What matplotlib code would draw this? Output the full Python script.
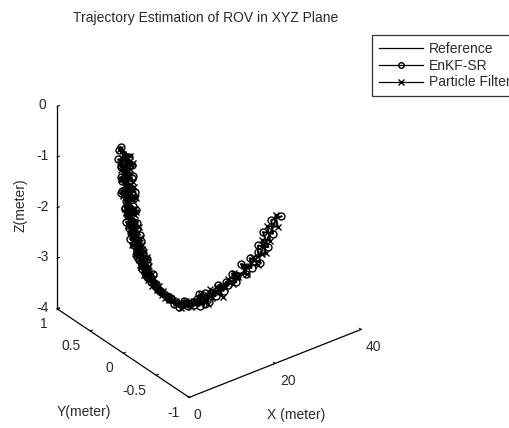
import matplotlib
matplotlib.use('Agg')
import matplotlib.pyplot as plt

plt.rcParams['font.family'] = ['Liberation Sans', 'DejaVu Sans']
plt.rcParams['axes.unicode_minus'] = False

# reference trajectory (estimates are sampled at the same x positions)
x_ref = [0.60, 0.61, 0.63, 0.64, 0.65, 0.67, 0.69, 0.72, 0.73, 0.77,
         0.79, 0.82, 0.86, 0.89, 0.93, 0.97, 1.00, 1.05, 1.09, 1.15,
         1.19, 1.27, 1.32, 1.40, 1.46, 1.55, 1.63, 1.70, 1.79, 1.86,
         1.95, 2.05, 2.12, 2.22, 2.29, 2.41, 2.52, 2.61, 2.73, 2.82,
         2.95, 3.06, 3.20, 3.33, 3.50, 3.63, 3.77, 3.90, 4.04, 4.18,
         4.35, 4.49, 4.64, 4.79, 4.94, 5.09, 5.25, 5.42, 5.61, 5.80,
         6.01, 6.23, 6.46, 6.70, 6.95, 7.22, 7.49, 7.78, 8.07, 8.38,
         8.71, 9.05, 9.42, 9.80, 10.20, 10.61, 11.04, 11.52, 12.03, 12.57,
         13.1, 13.6, 14.1, 14.6, 15.1, 15.6, 16.1, 16.6, 17.1, 17.6,
         18.2, 18.8, 19.4, 20.0, 20.6, 21.2, 21.9, 22.6, 23.3, 24.0,
         24.7, 25.4, 26.2, 27.0, 27.8, 28.6, 29.4, 30.2, 31.0, 31.8,
         32.3, 33.0, 33.7, 34.4, 35.2, 35.9]
y_ref = [0.0, 0.0, 0.0, 0.0, 0.0, 0.0, 0.0, 0.0, 0.0, 0.0,
         0.0, 0.0, 0.0, 0.0, 0.0, 0.0, 0.0, 0.0, 0.0, 0.0,
         0.0, 0.0, 0.0, 0.0, 0.0, 0.0, 0.0, 0.0, 0.0, 0.0,
         0.0, 0.0, 0.0, 0.0, 0.0, 0.0, 0.0, 0.0, 0.0, 0.0,
         0.0, 0.0, 0.0, 0.0, 0.0, 0.0, 0.0, 0.0, 0.0, 0.0,
         0.0, 0.0, 0.0, 0.0, 0.0, 0.0, 0.0, 0.0, 0.0, 0.0,
         0.0, 0.0, 0.0, 0.0, 0.0, 0.0, 0.0, 0.0, 0.0, 0.0,
         0.0, 0.0, 0.0, 0.0, 0.0, 0.0, 0.0, 0.0, 0.0, 0.0,
         0.0, 0.0, 0.0, 0.0, 0.0, 0.0, 0.0, 0.0, 0.0, 0.0,
         0.0, 0.0, 0.0, 0.0, 0.0, 0.0, 0.0, 0.0, 0.0, 0.0,
         0.0, 0.0, 0.0, 0.0, 0.0, 0.0, 0.0, 0.0, 0.0, 0.0,
         0.0, 0.0, 0.0, 0.0, 0.0, 0.0]
z_ref = [-0.05, -0.09, -0.14, -0.18, -0.23, -0.27, -0.31, -0.36, -0.40, -0.45,
         -0.49, -0.53, -0.58, -0.62, -0.67, -0.71, -0.75, -0.80, -0.84, -0.89,
         -0.93, -0.98, -1.02, -1.07, -1.11, -1.16, -1.21, -1.25, -1.30, -1.34,
         -1.39, -1.44, -1.48, -1.53, -1.57, -1.62, -1.67, -1.71, -1.76, -1.80,
         -1.85, -1.89, -1.94, -1.98, -2.03, -2.07, -2.11, -2.15, -2.19, -2.23,
         -2.28, -2.32, -2.36, -2.40, -2.44, -2.48, -2.52, -2.56, -2.60, -2.64,
         -2.68, -2.72, -2.76, -2.80, -2.84, -2.88, -2.92, -2.96, -3.00, -3.04,
         -3.08, -3.12, -3.16, -3.20, -3.24, -3.28, -3.32, -3.36, -3.40, -3.44,
         -3.48, -3.50, -3.52, -3.53, -3.54, -3.555, -3.565, -3.57, -3.58, -3.58,
         -3.58, -3.57, -3.57, -3.56, -3.55, -3.54, -3.53, -3.51, -3.49, -3.47,
         -3.44, -3.42, -3.39, -3.36, -3.34, -3.30, -3.26, -3.22, -3.17, -3.12,
         -3.04, -2.95, -2.85, -2.74, -2.62, -2.48]

# EnKF-SR estimate
y_enkf = [0.08, -0.05, 0.10, -0.09, 0.03, 0.12, -0.06, 0.05, -0.10, 0.08,
          0.02, -0.08, 0.09, -0.03, 0.06, -0.12, 0.08, 0.03, -0.06, 0.10,
          -0.09, 0.02, 0.12, -0.05, 0.06, -0.10, 0.08, -0.02, 0.05, 0.09,
          -0.08, 0.06, -0.03, 0.10, -0.06, 0.02, 0.08, -0.09, 0.05, 0.06,
          -0.08, 0.09, -0.02, 0.05, -0.06, 0.08, 0.03, -0.05, 0.06, -0.09,
          0.05, 0.10, -0.06, 0.02, 0.08, -0.03, 0.06, -0.10, 0.03, 0.09,
          -0.03, 0.06, -0.08, 0.05, 0.09, -0.06, 0.02, 0.08, -0.05, 0.06,
          -0.09, 0.03, 0.10, -0.05, 0.05, -0.08, 0.06, 0.02, -0.06, 0.09,
          -0.03, 0.08, -0.06, 0.05, 0.06, -0.05, 0.03, -0.08, 0.06, 0.03,
          -0.05, 0.08, -0.03, 0.06, -0.06, 0.05, 0.02, -0.05, 0.08, -0.03,
          0.05, -0.06, 0.06, 0.03, -0.05, 0.08, -0.03, 0.05, -0.06, 0.03,
          0.06, -0.05, 0.08, -0.03, 0.05, -0.06]
z_enkf = [-0.02, -0.11, -0.10, -0.22, -0.21, -0.30, -0.26, -0.35, -0.43, -0.41,
          -0.51, -0.50, -0.63, -0.60, -0.64, -0.74, -0.71, -0.81, -0.82, -0.93,
          -0.90, -1.00, -0.98, -1.10, -1.10, -1.13, -1.25, -1.23, -1.32, -1.29,
          -1.42, -1.42, -1.45, -1.57, -1.56, -1.59, -1.69, -1.67, -1.79, -1.78,
          -1.81, -1.92, -1.92, -2.02, -2.00, -2.06, -2.14, -2.11, -2.21, -2.20,
          -2.32, -2.30, -2.33, -2.42, -2.40, -2.51, -2.51, -2.53, -2.64, -2.62,
          -2.70, -2.68, -2.79, -2.78, -2.81, -2.92, -2.91, -2.93, -3.02, -3.00,
          -3.11, -3.10, -3.12, -3.22, -3.21, -3.31, -3.30, -3.32, -3.44, -3.43,
          -3.45, -3.52, -3.48, -3.56, -3.52, -3.53, -3.60, -3.55, -3.61, -3.54,
          -3.60, -3.54, -3.61, -3.54, -3.51, -3.57, -3.52, -3.48, -3.51, -3.43,
          -3.47, -3.40, -3.36, -3.40, -3.32, -3.27, -3.28, -3.18, -3.20, -3.10,
          -3.01, -2.97, -2.81, -2.77, -2.60, -2.45]

# particle filter estimate
y_pf = [-0.06, 0.09, -0.10, 0.05, -0.08, 0.06, 0.10, -0.05, 0.09, -0.03,
        0.08, -0.09, 0.05, 0.06, -0.10, 0.09, -0.03, -0.08, 0.06, -0.12,
        0.08, -0.06, 0.03, 0.10, -0.08, 0.05, -0.09, 0.03, -0.06, 0.08,
        0.09, -0.05, 0.08, -0.10, 0.06, -0.03, 0.09, 0.05, -0.08, 0.03,
        -0.09, 0.06, 0.08, -0.05, 0.09, -0.08, 0.05, 0.03, -0.09, 0.08,
        -0.06, 0.03, 0.09, -0.08, 0.06, -0.05, 0.08, -0.09, 0.05, 0.03,
        -0.08, 0.09, -0.03, 0.06, -0.09, 0.08, -0.05, 0.03, 0.09, -0.06,
        0.06, -0.09, 0.03, 0.08, -0.05, 0.06, -0.08, 0.05, 0.03, -0.06,
        0.06, -0.05, 0.03, -0.08, 0.05, 0.06, -0.03, 0.08, -0.06, 0.05,
        0.03, -0.06, 0.08, -0.05, 0.03, 0.06, -0.08, 0.05, -0.03, 0.06,
        -0.05, 0.06, -0.03, 0.08, -0.06, 0.03, 0.05, -0.08, 0.06, -0.03,
        -0.06, 0.05, -0.03, 0.06, -0.05, 0.03]
z_pf = [-0.08, -0.07, -0.18, -0.15, -0.24, -0.23, -0.34, -0.34, -0.37, -0.49,
        -0.47, -0.56, -0.54, -0.64, -0.66, -0.68, -0.79, -0.77, -0.86, -0.87,
        -0.97, -0.95, -1.04, -1.03, -1.14, -1.14, -1.18, -1.29, -1.28, -1.37,
        -1.35, -1.46, -1.46, -1.50, -1.61, -1.60, -1.63, -1.74, -1.74, -1.82,
        -1.88, -1.85, -1.96, -1.95, -2.07, -2.05, -2.08, -2.18, -2.15, -2.25,
        -2.25, -2.36, -2.34, -2.37, -2.47, -2.44, -2.54, -2.54, -2.57, -2.68,
        -2.65, -2.74, -2.72, -2.83, -2.82, -2.85, -2.96, -2.94, -3.03, -3.00,
        -3.10, -3.09, -3.20, -3.18, -3.21, -3.31, -3.28, -3.38, -3.38, -3.47,
        -3.51, -3.46, -3.54, -3.50, -3.58, -3.54, -3.53, -3.60, -3.54, -3.60,
        -3.55, -3.61, -3.55, -3.53, -3.58, -3.50, -3.55, -3.49, -3.46, -3.51,
        -3.41, -3.44, -3.35, -3.39, -3.32, -3.27, -3.30, -3.20, -3.20, -3.08,
        -3.06, -2.92, -2.88, -2.70, -2.64, -2.51]

x_ticks = [0, 20, 40]
y_ticks = [-1, -0.5, 0, 0.5, 1]
z_ticks = [-4, -3, -2, -1, 0]
txt_col = '#2a2a2a'
fs = 10

fig = plt.figure(figsize=(5.09, 4.28), dpi=100)
ax = fig.add_axes([0.032, 0.038, 0.738, 0.882], projection='3d')
ax.set_proj_type('ortho')
ax.view_init(elev=31, azim=-127.5)
ax.set_box_aspect((1, 1, 1.09))

ax.plot(x_ref, y_ref, z_ref, 'k-', lw=1.4, label='Reference')
ax.plot(x_ref, y_enkf, z_enkf, 'k-o', lw=1.4, ms=5, mfc='none', mew=1.0, label='EnKF-SR')
ax.plot(x_ref, y_pf, z_pf, 'k-x', lw=1.4, ms=4, mew=1.0, label='Particle Filter')

ax.set_xlim(0, 40)
ax.set_ylim(-1, 1)
ax.set_zlim(-4, 0)
ax.set_xticks(x_ticks)
ax.set_yticks(y_ticks)
ax.set_zticks(z_ticks)
ax.set_xticklabels(['0', '20', '40'], ha='left')
ax.set_yticklabels(['-1', '-0.5', '0', '0.5', '1'], ha='right', va='center')
ax.set_zticklabels(['-4', '-3', '-2', '-1', '0'], va='center')

ax.grid(False)
for axis in (ax.xaxis, ax.yaxis, ax.zaxis):
    axis.set_pane_color((1, 1, 1, 0))
    axis.pane.set_edgecolor((1, 1, 1, 0))
    axis.line.set_color('black')
    axis.line.set_linewidth(0.9)
    axis._axinfo['tick']['inward_factor'] = 0.0
    axis._axinfo['tick']['outward_factor'] = 0.15
ax.tick_params(labelsize=fs, colors='black')
ax.xaxis.set_tick_params(pad=-3)
ax.yaxis.set_tick_params(pad=0)
ax.zaxis.set_tick_params(pad=-1)
for lbl in ax.get_xticklabels() + ax.get_yticklabels() + ax.get_zticklabels():
    lbl.set_color(txt_col)

fig.text(206 / 509, 1 - 18 / 428, 'Trajectory Estimation of ROV in XYZ Plane',
         ha='center', va='center', fontsize=fs, color=txt_col)
fig.text(20 / 509, 1 - 205 / 428, 'Z(meter)', rotation=90, ha='center', va='center',
         fontsize=fs, color=txt_col)
fig.text(84 / 509, 1 - 412 / 428, 'Y(meter)', ha='center', va='center',
         fontsize=fs, color=txt_col)
fig.text(296 / 509, 1 - 415 / 428, 'X (meter)', ha='center', va='center',
         fontsize=fs, color=txt_col)

leg = fig.legend(loc='upper left', bbox_to_anchor=(372 / 509, 1 - 35 / 428),
                 fontsize=fs, frameon=True, fancybox=False, handlelength=3.2,
                 handletextpad=0.4, borderaxespad=0, labelspacing=0.2, borderpad=0.5)
leg.get_frame().set_edgecolor('black')
leg.get_frame().set_linewidth(0.9)
for line in leg.get_lines():
    line.set_linewidth(0.9)
    line.set_markersize(4)
for t in leg.get_texts():
    t.set_color(txt_col)

fig.savefig('out.png', dpi=100)
